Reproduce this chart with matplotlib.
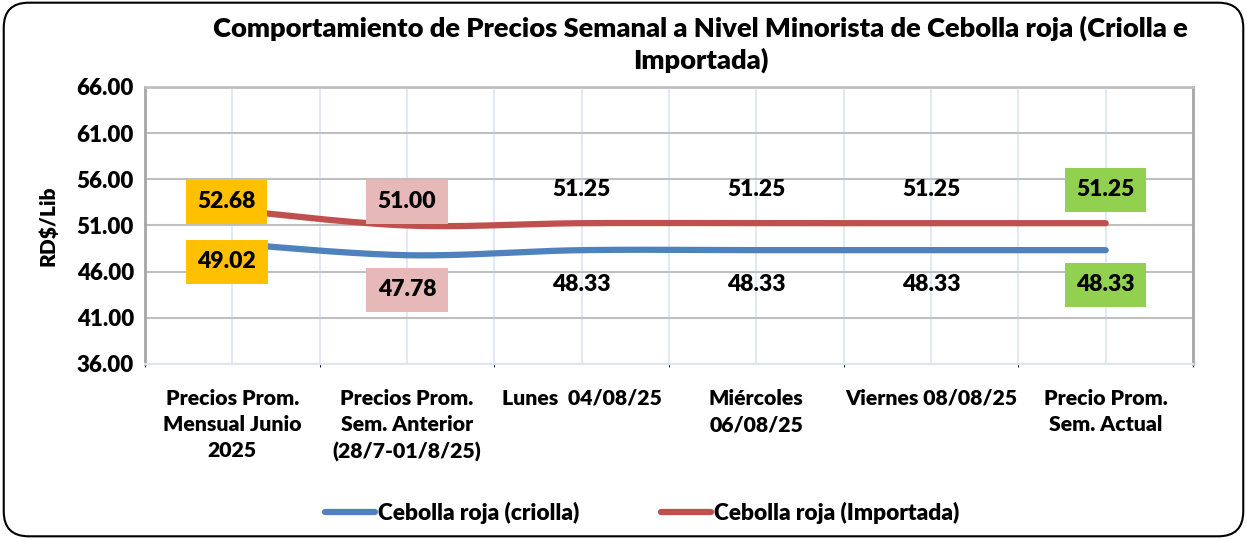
import numpy as np
import matplotlib.pyplot as plt
from matplotlib.patches import FancyBboxPatch
from matplotlib.lines import Line2D

plt.rcParams['font.family'] = ['Lato', 'DejaVu Sans']
W = 'heavy'
plt.rcParams['font.weight'] = W

categories = ['Precios Prom.\nMensual Junio\n2025', 'Precios Prom.\nSem. Anterior\n(28/7-01/8/25)',
              'Lunes  04/08/25', 'Miércoles\n06/08/25', 'Viernes 08/08/25', 'Precio Prom.\nSem. Actual']
criolla = [49.02, 47.78, 48.33, 48.33, 48.33, 48.33]
importada = [52.68, 51.00, 51.25, 51.25, 51.25, 51.25]
label_colors = ['#FFC000', '#E6B8B7', None, None, None, '#92D050']

BLUE = '#4F81BD'
RED = '#C0504D'


def smooth(xs, ys, n=40):
    # Catmull-Rom style bezier smoothing, like spreadsheet smoothed lines
    xs = np.asarray(xs, float)
    ys = np.asarray(ys, float)
    px, py = [], []
    for i in range(len(xs) - 1):
        x0, y0 = (xs[i - 1], ys[i - 1]) if i > 0 else (xs[i], ys[i])
        x1, y1 = xs[i], ys[i]
        x2, y2 = xs[i + 1], ys[i + 1]
        x3, y3 = (xs[i + 2], ys[i + 2]) if i + 2 < len(xs) else (x2, y2)
        c1 = (x1 + (x2 - x0) / 6, y1 + (y2 - y0) / 6)
        c2 = (x2 - (x3 - x1) / 6, y2 - (y3 - y1) / 6)
        t = np.linspace(0, 1, n)
        px.extend((1 - t) ** 3 * x1 + 3 * (1 - t) ** 2 * t * c1[0] + 3 * (1 - t) * t ** 2 * c2[0] + t ** 3 * x2)
        py.extend((1 - t) ** 3 * y1 + 3 * (1 - t) ** 2 * t * c1[1] + 3 * (1 - t) * t ** 2 * c2[1] + t ** 3 * y2)
    return px, py


fig = plt.figure(figsize=(12.47, 5.39), dpi=100)
fig.patches.append(FancyBboxPatch((0.003, 0.005), 0.994, 0.99, boxstyle='round,pad=0,rounding_size=0.02',
                                  transform=fig.transFigure, fill=False, edgecolor='black', linewidth=1.5,
                                  mutation_aspect=1247 / 539))
ax = fig.add_axes([0.1163, 0.3247, 0.8404, 0.5139])

x = np.arange(len(categories))
sx, sy = smooth(x, criolla)
ax.plot(sx, sy, color=BLUE, linewidth=4.5, solid_capstyle='round', zorder=3)
sx, sy = smooth(x, importada)
ax.plot(sx, sy, color=RED, linewidth=4.5, solid_capstyle='round', zorder=3)

ax.set_xlim(-0.5, len(categories) - 0.5)
ax.set_ylim(36, 66)
ax.set_yticks(np.arange(36, 67, 5))
ax.set_yticklabels([f'{v:.2f}' for v in np.arange(36, 67, 5)], fontsize=16, fontweight=W)
ax.set_xticks(x)
ax.set_xticklabels(categories, fontsize=15.3, fontweight=W, linespacing=1.45)
ax.set_xticks(np.arange(-0.5, len(categories), 1), minor=True)
ax.tick_params(axis='y', length=0, pad=8)
ax.tick_params(axis='x', length=0, pad=18)
ax.grid(axis='y', color='#BFBFBF', linewidth=1.5, zorder=0)
ax.grid(axis='x', which='both', color='#DCE6F2', linewidth=1.2, zorder=0)
for s in ['left', 'right', 'top']:
    ax.spines[s].set_color('#A6A6A6')
    ax.spines[s].set_linewidth(2)
ax.spines['top'].set_color('#BFBFBF')
ax.spines['bottom'].set_color('#DCE6F2')
ax.spines['bottom'].set_linewidth(1.5)
ax.set_ylabel('RD$/Lib', fontsize=15, fontweight=W, labelpad=14)

# data labels
for i in range(len(categories)):
    fc = label_colors[i]
    up = {0: 6, 1: 17}.get(i, 24)
    dn = {0: -13, 1: -25}.get(i, -25)
    dx = -4 if i == 0 else 0
    box = dict(boxstyle='square,pad=0.5', facecolor=fc, edgecolor='none') if fc else None
    ax.annotate(f'{importada[i]:.2f}', (x[i], importada[i]), xytext=(dx, up), textcoords='offset points',
                ha='center', va='center', fontsize=16.5, fontweight=W, bbox=box, zorder=5)
    ax.annotate(f'{criolla[i]:.2f}', (x[i], criolla[i]), xytext=(dx, dn), textcoords='offset points',
                ha='center', va='center', fontsize=16.5, fontweight=W, bbox=box, zorder=5)

fig.text(0.562, 0.948, 'Comportamiento de Precios Semanal a Nivel Minorista de Cebolla roja (Criolla e',
         ha='center', va='center', fontsize=19.6, fontweight=W)
fig.text(0.562, 0.888, 'Importada)', ha='center', va='center', fontsize=19.6, fontweight=W)

handles = [Line2D([], [], color=BLUE, linewidth=4.5, solid_capstyle='round'),
           Line2D([], [], color=RED, linewidth=4.5, solid_capstyle='round')]
fig.legend(handles, ['Cebolla roja (criolla)', 'Cebolla roja (Importada)'], loc='center',
           bbox_to_anchor=(0.515, 0.048), ncol=2, frameon=False, prop={'weight': W, 'size': 16.3},
           handlelength=2.2, handletextpad=0.15, columnspacing=3.6)

fig.savefig('out.png', dpi=100)
